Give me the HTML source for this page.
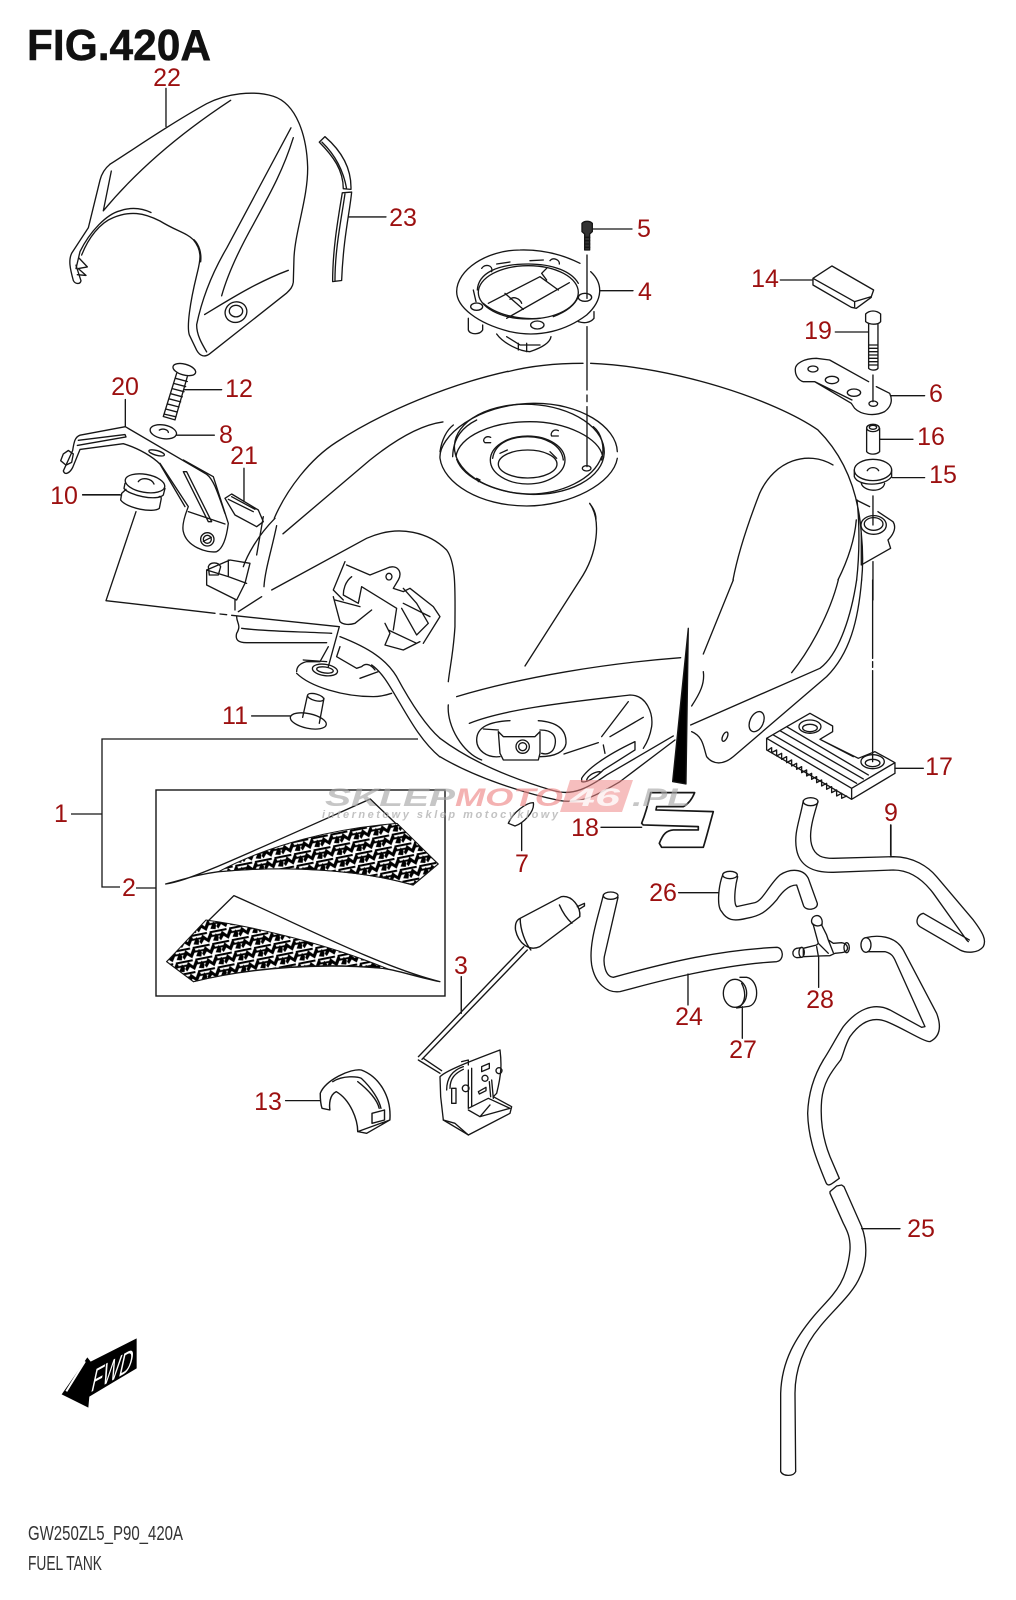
<!DOCTYPE html>
<html><head><meta charset="utf-8"><title>FIG.420A Fuel Tank</title>
<style>
html,body{margin:0;padding:0;background:#fff}
svg{display:block}
.l{font-family:"Liberation Sans",sans-serif;font-size:25px;fill:#9c1010;text-anchor:middle}
.s{fill:none;stroke:#161616;stroke-width:4;stroke-linecap:round;stroke-linejoin:round}
</style></head><body>
<svg width="1016" height="1600" viewBox="0 0 1016 1600" xmlns="http://www.w3.org/2000/svg">
<defs>
<pattern id="p" width="56" height="36" patternUnits="userSpaceOnUse" patternTransform="rotate(-12)">
<rect width="56" height="36" fill="#fff"/>
<path d="M0 28L12 8L24 22L36 2L40 14L26 36L14 24L4 36ZM38 32L50 12L56 24L52 36Z" fill="#000"/>
<path d="M0 6H26M30 18H56M0 18H10M34 6H56" stroke="#000" stroke-width="6"/>
</pattern>
</defs>
<text x="27" y="60" font-family="'Liberation Sans',sans-serif" font-weight="700" font-size="44" textLength="184" lengthAdjust="spacingAndGlyphs" fill="#111" stroke="#111" stroke-width=".5">FIG.420A</text>

<!-- Z1: upper left -->
<g class="s" transform="scale(.3333,.34)">
<path d="M330 483C400 440 500 370 620 305C680 275 760 265 820 283C890 305 920 400 923 490C925 580 885 680 882 760L880 830C878 845 870 852 860 862L630 1040C615 1052 600 1048 590 1030L568 985C560 960 570 890 590 810C600 770 610 740 580 705C560 685 530 680 480 650C430 625 390 620 340 640C300 655 265 700 245 750"/>
<path d="M330 483C315 495 305 510 300 530L265 670L215 745C205 765 210 790 220 825C225 835 240 838 243 826L228 780"/>
<path d="M692 295C560 380 420 490 310 620M334 503L310 620M453 625C420 610 390 610 360 620C320 630 270 680 240 740L228 790M873 376C800 510 730 640 680 730C650 780 610 860 590 955C590 985 605 1010 620 1035M880 405C850 500 810 570 760 660C720 730 685 800 665 870M614 925C690 880 770 830 865 795M582 705C598 720 605 745 602 770M238 760L262 785L235 790L258 810L232 808"/>
<ellipse cx="708" cy="918" rx="33" ry="30" transform="rotate(-20 708 918)"/><ellipse cx="708" cy="915" rx="20" ry="17"/>
<path d="M498 260V372"/>
<path d="M958 418L975 402C1020 440 1055 490 1053 557L1030 555C1030 500 1000 460 958 418ZM1027 567L1055 565C1050 620 1030 700 1025 825L998 828C998 730 1015 640 1027 567ZM966 418C1005 455 1030 500 1040 555M1035 570C1025 640 1005 730 1005 825M1047 638H1158"/>
<ellipse cx="553" cy="1087" rx="35" ry="16" transform="rotate(15 553 1087)"/>
<path d="M530 1098L490 1225L525 1235L562 1108M528 1113L562 1122M522 1128L557 1137M517 1143L552 1152M512 1158L547 1167M507 1173L542 1182M502 1188L537 1197M497 1203L532 1212M493 1218L528 1226M552 1146H665"/>
<ellipse cx="490" cy="1270" rx="40" ry="20" transform="rotate(10 490 1270)"/>
<path d="M478 1265C490 1258 505 1265 505 1272M530 1280H643"/>
<path d="M376 1175V1255L240 1280C225 1285 222 1300 218 1325L190 1385C195 1400 210 1390 218 1375L240 1322L370 1305C420 1320 460 1345 480 1365L555 1490M376 1255L620 1395C640 1410 650 1440 675 1510M235 1295L375 1278L378 1285L232 1310"/>
<path d="M190 1335L205 1325L220 1335L215 1360L198 1368L182 1355Z"/>
<ellipse cx="470" cy="1332" rx="24" ry="7" transform="rotate(15 470 1332)"/>
<path d="M248 1455H360"/>
<path d="M823 1524C860 1440 930 1350 1010 1300C1150 1210 1350 1130 1524 1092M849 1570L1110 1353C1185 1294 1260 1250 1329 1241"/>
</g>

<!-- Z2: upper right -->
<g class="s" transform="translate(508 200) scale(.3333)">
<path d="M0 515C70 497 150 490 225 490M248 490C500 500 800 600 930 690C1000 760 1050 860 1060 1000C1066 1060 1065 1100 1061 1140M1047 900C1055 970 1055 1060 1046 1140M1045 960C1040 1020 1020 1080 990 1140"/>
<path d="M975 795C900 750 800 780 755 880C720 970 690 1060 675 1140M245 910C280 960 270 1060 216 1140M1045 900L1085 920"/>
<path d="M250 87H372M237 165V295M275 272H375M237 380V570M237 585V605M237 620V800"/>
<path d="M222 70C230 62 245 62 253 70V95L245 102V150H230V102L222 95Z" fill="#333"/>
<path d="M230 112H245M230 122H245M230 132H245M230 142H245"/>
<path d="M915 235L972 198L1097 270L1090 290L1040 305ZM915 235V255L1030 322L1045 325L1090 292M1040 305V320M817 240H915"/>
<path d="M1073 342C1085 330 1105 330 1118 342V365C1110 375 1085 375 1073 365ZM1082 372V505C1090 512 1105 512 1110 505V372M1082 435H1110M1082 445H1110M1082 455H1110M1082 465H1110M1082 475H1110M1082 485H1110M1082 495H1110M982 396H1080M1095 525V605"/>
<path d="M862 510C860 490 890 475 925 475L965 480L1082 545M1105 560L1145 580C1155 600 1150 620 1130 635C1100 650 1060 645 1040 625L1030 610L920 545H885C870 540 862 525 862 510M1150 587H1250M920 545L1032 600"/>
<ellipse cx="915" cy="507" rx="15" ry="9"/><ellipse cx="972" cy="540" rx="20" ry="11"/><ellipse cx="1038" cy="578" rx="20" ry="11"/><ellipse cx="1096" cy="611" rx="13" ry="8"/>
<path d="M1076 685V755C1085 765 1105 765 1115 755V685M1117 718H1215"/><ellipse cx="1095" cy="684" rx="19" ry="11"/><ellipse cx="1095" cy="682" rx="11" ry="6"/>
<ellipse cx="1095" cy="810" rx="56" ry="32"/>
<path d="M1039 810V830C1050 860 1130 860 1151 830V810M1060 850C1065 875 1125 880 1130 850M1078 812C1085 800 1105 800 1112 812M1153 833H1250M1095 888V975"/>
<ellipse cx="1097" cy="975" rx="38" ry="28"/><ellipse cx="1097" cy="972" rx="28" ry="19"/>
<path d="M1110 935L1155 965C1165 980 1160 1000 1140 1020L1148 1045L1060 1095M1060 1000V1095M1095 1085V1200"/>
</g>

<!-- Z9: filler cap ring -->
<g class="s" transform="translate(440 240) scale(.3333)">
<path d="M452 95C490 130 490 180 440 225C380 270 300 295 210 275C110 250 50 200 50 155C50 90 140 30 240 30C310 28 370 45 420 70"/>
<ellipse cx="265" cy="157" rx="150" ry="80"/>
<path d="M112 150C115 100 170 72 265 72C340 72 395 95 415 130M130 190C170 225 240 240 300 235M340 230C380 215 405 195 415 170M100 150L108 185M170 72L210 66M270 62L310 60"/>
<path d="M145 190L300 110M200 235L388 128M195 160L250 208M300 110L355 150M320 120L305 100C310 95 315 90 320 85"/>
<path d="M210 178C220 168 240 175 245 190"/>
<ellipse cx="435" cy="172" rx="20" ry="12"/><ellipse cx="110" cy="200" rx="18" ry="11"/><ellipse cx="292" cy="255" rx="20" ry="12"/>
<path d="M125 85C135 70 160 75 155 95M330 62C340 50 360 60 358 72"/>
<path d="M85 235V270C90 285 120 285 128 270V255M415 245C430 250 450 250 462 235V215M170 282C190 310 240 335 270 335C300 325 330 310 333 290M235 310V330M200 290L240 315H300M260 310V335"/>
</g>

<!-- Z11: filler recess -->
<g class="s" transform="translate(420 400) scale(.3333)">
<path d="M60 175C55 110 170 12 340 10C480 8 590 80 592 155M592 175C580 250 450 318 320 318C180 318 70 250 60 175"/>
<path d="M60 155C65 120 80 90 100 75"/>
<ellipse cx="328" cy="148" rx="225" ry="135" transform="rotate(3 328 148)"/>
<path d="M108 170C115 110 215 65 330 65C440 65 540 115 548 170M110 178C130 235 230 280 330 282C420 282 520 240 545 170M98 170C100 110 130 80 170 60M520 80C545 100 555 140 545 180"/>
<ellipse cx="323" cy="180" rx="112" ry="72"/><ellipse cx="323" cy="192" rx="88" ry="42"/>
<path d="M218 175C225 125 280 110 323 110C375 110 425 135 430 180M240 160L262 150M390 155L410 175"/>
<path d="M212 112C195 105 185 122 195 128H212M415 92C400 85 390 100 395 108H415"/>
<ellipse cx="500" cy="205" rx="13" ry="8"/>
<path d="M510 312C525 330 528 345 528 358M170 235L180 240L175 245"/>
</g>

<!-- Z3: middle left -->
<g class="s" transform="translate(50 460) scale(.3333)">
<ellipse cx="285" cy="70" rx="60" ry="27" transform="rotate(10 285 70)"/>
<path d="M265 65C275 50 305 55 312 72M225 70L222 85C235 105 320 125 340 105L345 85M228 88L215 100L212 120C230 145 310 160 328 145L333 120C335 112 332 105 325 112M98 105H215"/>
<path d="M258 155L168 422L495 460M510 462L530 464M545 466L868 500L835 620"/>
<path d="M330 10L415 140C405 165 395 195 400 215C410 260 470 280 500 275C520 265 530 230 535 190L490 50L400 0M415 155L525 192M400 35L410 35L485 185L475 185Z"/>
<ellipse cx="472" cy="238" rx="20" ry="20"/><ellipse cx="472" cy="238" rx="12" ry="12"/><path d="M460 244L484 232"/>
<path d="M525 115L545 102L625 150L640 185L620 200L555 165ZM535 118L610 155M545 110L615 148M582 25V125"/>
<path d="M675 175C620 230 590 290 580 320M680 197C665 270 645 330 642 380M640 170L620 285M635 410L565 455M665 390L950 235C1050 190 1140 220 1190 270C1220 310 1215 400 1215 500C1210 580 1200 620 1195 665M1195 735C1190 800 1240 880 1295 900"/>
<path d="M470 330L540 300L600 310L585 370L560 420L470 375ZM535 300V350L470 330M535 350L590 370M475 320C480 305 505 305 512 320L505 345L478 345ZM555 420L555 450"/>
<path d="M560 470C560 490 575 495 560 520C555 540 565 548 590 548H830M575 505C650 515 760 515 845 520M870 530C960 565 1010 600 1040 650C1075 715 1120 790 1170 835M965 615C1000 640 1020 680 1050 730C1085 790 1120 850 1170 891"/>
<path d="M740 635C740 620 750 610 770 605L810 605L835 560M860 590L920 625L935 620C945 610 960 610 975 630M760 600L830 605M740 640C780 680 880 710 970 710C990 710 1010 705 1025 700M930 655L985 635M870 560L860 590"/>
<ellipse cx="825" cy="630" rx="38" ry="17" transform="rotate(8 825 630)"/><ellipse cx="825" cy="630" rx="25" ry="9" transform="rotate(8 825 630)"/>
<ellipse cx="775" cy="783" rx="55" ry="22" transform="rotate(12 775 783)"/>
<path d="M605 768H720M772 708L758 772M822 715L808 790"/>
<ellipse cx="797" cy="712" rx="25" ry="10" transform="rotate(15 797 712)" fill="#fff"/>
<path d="M885 305L850 390L880 420M890 315L960 345L1010 325C1040 310 1060 335 1045 360L1030 385L1060 395L1080 385L1150 440L1170 470L1120 550M905 350C885 365 880 390 880 405L925 430L935 380L1040 445L1030 510M850 410L870 485C880 495 900 495 915 490L965 450M855 420L930 440M1005 490L1020 520L1005 555L1060 570L1110 545M1015 510L1100 550M1055 445L1100 525L1135 490L1100 430L1060 385M1060 430L1140 470"/>
<ellipse cx="1017" cy="350" rx="9" ry="10"/>
</g>

<!-- Z4: middle right -->
<g class="s" transform="translate(440 580) scale(.3333)">
<path d="M880 0L790 222M420 0L255 258M50 350C250 290 500 250 722 233M790 275C795 310 780 340 755 378"/>
<path d="M1250 0C1235 100 1200 220 1140 265L752 435M1265 0C1255 120 1230 220 1160 290L880 530C850 555 820 555 800 530C790 500 790 470 755 455M1195 0C1170 100 1110 210 1055 278"/>
<ellipse cx="950" cy="425" rx="20" ry="32" transform="rotate(25 950 425)"/><ellipse cx="855" cy="470" rx="7" ry="15" transform="rotate(25 855 470)"/>
<path d="M0 475C100 550 230 600 340 632C400 650 450 620 500 585L700 468M0 530C100 590 250 640 360 662C430 672 480 640 540 605L705 480"/>
<path d="M88 430C200 385 400 365 570 345C620 345 640 400 635 440C630 470 620 490 610 505M372 522L475 488M485 470L565 365M510 470L610 412M490 495L495 520"/>
<path d="M210 422C150 425 110 440 110 480C110 510 140 535 180 530M295 422C340 425 380 440 378 490C375 515 345 530 300 530M130 447L175 450M300 450C340 450 350 470 345 495C340 520 320 525 305 520"/>
<path d="M175 455L180 520L190 540H295L300 520V455L285 470H190Z"/>
<circle cx="248" cy="500" r="20"/><circle cx="248" cy="500" r="12"/>
<path d="M425 595C440 570 490 530 585 485V510L490 570C470 590 440 610 425 605ZM440 600C445 585 465 575 480 575"/>
<path d="M745 145L738 612L698 605Z" fill="#000"/>
<path d="M980 475L1040 440L1110 400L1178 438V455L1140 478L1255 535L1305 515L1365 548V580L1235 658V625ZM980 475V510L1235 658M1235 625L1365 548M1000 465L1250 610M1020 452L1270 597M1040 440L1285 585M1140 478L1240 530"/>
<path d="M985 510L995 503V518L1010 510V528L1025 520V538L1040 530V548L1055 540V558L1070 550V568L1085 560V578L1100 570V588L1115 580V598L1130 590V608L1145 600V618L1160 610V628L1175 620V638L1190 630V648L1205 640V655L1220 648"/>
<ellipse cx="1110" cy="440" rx="33" ry="20"/><ellipse cx="1110" cy="444" rx="22" ry="11"/>
<ellipse cx="1298" cy="545" rx="35" ry="21"/><ellipse cx="1298" cy="549" rx="22" ry="11"/>
<path d="M1298 0V235M1298 245V262M1298 272V545M1365 565H1450"/>
<g transform="translate(0 -10)" stroke-width="5">
<path d="M632 648H764C755 670 745 682 730 690H650L648 700L820 705C810 740 800 780 790 812H665L658 800C670 770 680 762 700 760H775V750L610 745L605 740C615 715 625 680 632 648Z"/>
</g>
<path d="M205 730C220 695 260 668 280 668C285 695 250 730 225 738ZM245 730V812M483 742H605M1352 735V825"/>
</g>

<!-- Z5: decals etc -->
<rect x="156" y="790" width="289" height="206" fill="none" stroke="#161616" stroke-width="1.4"/>
<path d="M418 739H102V887H120M102 814H71M136 888H156" fill="none" stroke="#161616" stroke-width="1.3"/>
<g class="s" transform="translate(40 780) scale(.357,.3333)">
<path d="M352 312C420 300 500 260 925 57L1115 252L1045 315C900 270 700 255 500 275C430 285 400 300 352 312Z"/>
<path d="M500 275C650 190 830 145 1000 130L1115 252L1045 315C900 270 700 255 500 275Z" fill="url(#p)" stroke-width="3"/>
<path d="M355 545L543 347C700 420 950 560 1120 605C1050 590 1000 570 960 565C800 550 600 560 430 605Z"/>
<path d="M355 545L465 420C600 440 800 490 975 567C800 545 600 560 430 605Z" fill="url(#p)" stroke-width="3"/>
<path d="M1345 415L1460 350C1490 345 1515 380 1512 410L1400 500C1370 515 1340 490 1332 450C1330 430 1335 420 1345 415ZM1345 415C1345 450 1360 490 1375 510M1455 375C1465 400 1480 420 1490 430M1505 380L1525 370V378L1510 388"/>
<path d="M1355 500L1060 830M1365 510L1070 838M1180 590V700"/>
<path d="M785 940C800 900 870 865 900 870C950 890 985 950 980 1020L915 1060L890 1055C890 1020 870 960 830 935C810 945 810 975 812 990L790 985C785 970 785 955 785 940ZM820 905C850 885 890 890 900 895M890 905C920 930 945 960 950 985M900 895C930 925 950 960 955 985M930 1000L965 990V1020L930 1030ZM688 962H785M890 1055L980 1020"/>
</g>

<!-- Z12: sender base -->
<g class="s" transform="translate(400 1030) scale(.3333)">
<path d="M55 90L120 130M70 85L125 122"/>
<path d="M120 140C135 125 180 105 300 60C305 100 305 130 290 190L280 200L335 230L330 250L205 315L130 270L122 200Z"/>
<path d="M215 115V230M205 120V235M275 150L280 205M268 155L272 200M140 180C140 140 160 120 190 110M150 175C150 145 165 130 190 118M155 175V220H168V175ZM205 235L265 205L330 235M205 240L240 260L330 235M240 260L270 225M130 270L165 280L205 315M185 95L205 90V105"/>
<circle cx="197" cy="175" r="10"/><circle cx="297" cy="122" r="9"/><circle cx="255" cy="145" r="9"/>
<path d="M245 110L268 100V115L245 125ZM235 185L258 172V182L238 192Z"/>
</g>

<!-- Z6: hoses -->
<g class="s" transform="translate(570 780) scale(.3333)">
<ellipse cx="722" cy="65" rx="22" ry="12"/>
<path d="M700 62C690 120 670 160 680 210C690 260 730 278 790 277L970 270C1020 270 1060 300 1090 340L1190 480L1195 485M744 65C730 110 715 160 725 195C735 230 760 235 790 235L970 230C1030 230 1075 260 1100 290L1210 420C1240 460 1250 480 1240 500C1225 520 1190 520 1170 510L1050 440C1035 430 1040 405 1060 400L1198 480M963 135V228"/>
<ellipse cx="480" cy="285" rx="22" ry="11"/>
<path d="M458 285C445 320 440 380 455 395C470 420 490 425 530 415C570 408 590 395 620 360C640 330 660 315 680 315L700 375C705 395 745 390 742 370L715 295C700 265 660 265 630 285C600 310 580 360 555 368L500 380C490 370 495 320 503 290M326 338H445"/>
<ellipse cx="122" cy="347" rx="22" ry="11"/>
<path d="M100 345C85 410 55 490 65 555C75 610 110 640 150 635C280 600 450 555 620 545C645 540 640 502 620 502C450 510 300 545 130 592C105 590 100 550 103 530L144 352M354 582V675"/>
<path d="M695 503L680 505C665 510 665 530 680 533L695 532M700 505L740 495L745 490L730 435C720 425 725 410 738 407C752 405 760 420 755 435L770 465L775 480L790 490L815 488C835 490 842 515 815 518L795 520L780 527L745 528L700 530ZM745 490L775 520M775 480L790 518M740 500L745 528M746 530V622M727 430C735 440 750 440 757 432"/>
<ellipse cx="695" cy="517" rx="8" ry="15"/><ellipse cx="830" cy="503" rx="8" ry="15"/>
<ellipse cx="495" cy="640" rx="35" ry="42"/>
<path d="M510 592H530C570 600 570 680 530 680L500 684M515 610C530 640 525 665 510 680M517 680V775"/>
<ellipse cx="888" cy="495" rx="15" ry="22"/>
<path d="M888 473C920 465 975 465 1000 510L1100 700C1115 740 1110 770 1080 785C1060 785 1000 745 950 725C900 705 865 735 840 770C825 795 820 825 812 840M893 515H945C965 520 970 530 975 540L1065 740L1055 742L960 690C910 665 860 690 820 740C800 770 780 810 760 840"/>
</g>

<!-- Z8: lower hose -->
<g class="s" transform="translate(740 1060) scale(.3333)">
<path d="M250 0C220 50 205 100 203 160C205 240 230 300 258 368C262 378 270 376 280 368L298 355L270 290C250 240 240 180 245 120C250 70 270 40 302 0"/>
<path d="M270 395L290 378L305 375L312 380L365 500C380 540 385 600 360 650C340 700 280 750 240 800C190 860 165 930 165 1000L167 1235C160 1250 130 1250 122 1235V1000C125 900 170 830 220 770C270 710 320 680 330 570C332 530 320 510 310 490L270 400ZM365 506H480"/>
</g>

<!-- FWD -->
<g transform="translate(0 1300) scale(.3333)">
<polygon points="185,283 265,323 268,290 410,205 410,115 272,185 262,172" fill="#000"/>
<path d="M199 274L255 184" stroke="#fff" stroke-width="6"/>
<text transform="matrix(1 -.55 -.22 1 270 278)" font-family="'Liberation Sans',sans-serif" font-size="100" textLength="122" lengthAdjust="spacingAndGlyphs" fill="#fff">FWD</text>
</g>

<!-- labels -->
<g>
<text class="l" x="167" y="86">22</text><text class="l" x="403" y="226">23</text><text class="l" x="644" y="237">5</text><text class="l" x="645" y="300">4</text>
<text class="l" x="765" y="287">14</text><text class="l" x="818" y="339">19</text><text class="l" x="936" y="402">6</text><text class="l" x="931" y="445">16</text>
<text class="l" x="943" y="483">15</text><text class="l" x="239" y="397">12</text><text class="l" x="226" y="443">8</text><text class="l" x="125" y="395">20</text>
<text class="l" x="244" y="464">21</text><text class="l" x="64" y="504">10</text><text class="l" x="235" y="724">11</text><text class="l" x="61" y="822">1</text>
<text class="l" x="129" y="896">2</text><text class="l" x="461" y="974">3</text><text class="l" x="522" y="872">7</text><text class="l" x="585" y="836">18</text>
<text class="l" x="939" y="775">17</text><text class="l" x="891" y="821">9</text><text class="l" x="663" y="901">26</text><text class="l" x="689" y="1025">24</text>
<text class="l" x="743" y="1058">27</text><text class="l" x="820" y="1008">28</text><text class="l" x="268" y="1110">13</text><text class="l" x="921" y="1237">25</text>
</g>

<!-- footer -->
<text x="28" y="1540" font-family="'Liberation Sans',sans-serif" font-size="20" textLength="155" lengthAdjust="spacingAndGlyphs" fill="#333">GW250ZL5_P90_420A</text>
<text x="28" y="1570" font-family="'Liberation Sans',sans-serif" font-size="20" textLength="74" lengthAdjust="spacingAndGlyphs" fill="#333">FUEL TANK</text>

<!-- watermark -->
<g font-family="'Liberation Sans',sans-serif" font-weight="700" font-style="italic">
<text x="325" y="806" font-size="25" textLength="130" lengthAdjust="spacingAndGlyphs" fill="#a8a8a8" fill-opacity=".65">SKLEP</text>
<text x="455" y="806" font-size="25" textLength="108" lengthAdjust="spacingAndGlyphs" fill="#ee8888" fill-opacity=".65">MOTO</text>
<polygon points="570,780 633,780 622,812 560,812" fill="#ee8888" fill-opacity=".55"/>
<text x="570" y="806" font-size="25" textLength="50" lengthAdjust="spacingAndGlyphs" fill="#fff" fill-opacity=".8">46</text>
<text x="632" y="806" font-size="25" textLength="58" lengthAdjust="spacingAndGlyphs" fill="#a8a8a8" fill-opacity=".65">.PL</text>
<text x="322" y="818" font-size="11" textLength="236" fill="#a8a8a8" fill-opacity=".7">internetowy sklep motocyklowy</text>
</g>
</svg>
</body></html>
